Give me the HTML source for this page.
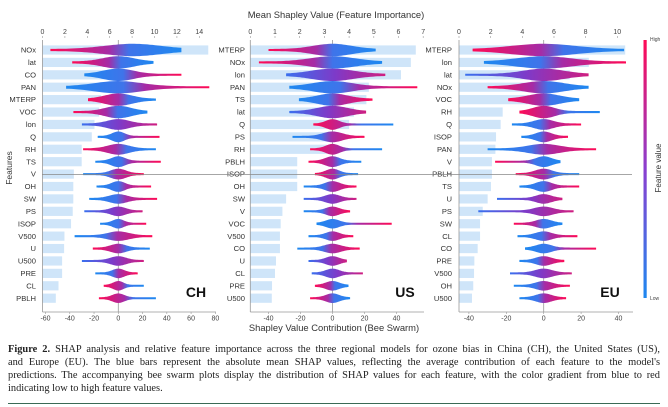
<!DOCTYPE html>
<html><head><meta charset="utf-8">
<style>
html,body{margin:0;padding:0;background:#fff;}
body{width:668px;height:407px;overflow:hidden;position:relative;}
#cap{position:absolute;left:8px;top:343px;width:652px;font-family:"Liberation Serif",serif;font-size:10.4px;line-height:13px;color:#222;}
#cap .j{text-align:justify;text-align-last:justify;white-space:nowrap;}
#rule{position:absolute;left:8px;top:403px;width:652px;height:1px;background:#3a6a55;}
</style></head>
<body>
<svg id="chart" width="668" height="340" style="position:absolute;left:0;top:0" font-family="Liberation Sans, sans-serif">
<defs>
<linearGradient id="gp" x1="0" x2="1" y1="0" y2="0"><stop offset="0" stop-color="#1e88f0"/><stop offset="0.4" stop-color="#3f74ea"/><stop offset="0.55" stop-color="#a52ca6"/><stop offset="1" stop-color="#ff0a55"/></linearGradient>
<linearGradient id="gn" x1="0" x2="1" y1="0" y2="0"><stop offset="0" stop-color="#ff0a55"/><stop offset="0.45" stop-color="#a52ca6"/><stop offset="0.6" stop-color="#3f74ea"/><stop offset="1" stop-color="#1e88f0"/></linearGradient>
<linearGradient id="gm" x1="0" x2="1" y1="0" y2="0"><stop offset="0" stop-color="#3a70ee"/><stop offset="0.5" stop-color="#7e3ac8"/><stop offset="1" stop-color="#d01e80"/></linearGradient>
<linearGradient id="gcb" x1="0" x2="0" y1="0" y2="1"><stop offset="0" stop-color="#ff0a55"/><stop offset="0.5" stop-color="#8a3fd0"/><stop offset="1" stop-color="#1e88f0"/></linearGradient>
</defs>
</svg>
<div id="cap">
<div class="j"><b>Figure 2.</b> SHAP analysis and relative feature importance across the three regional models for ozone bias in China (CH), the United States (US),</div>
<div class="j">and Europe (EU). The blue bars represent the absolute mean SHAP values, reflecting the average contribution of each feature to the model's</div>
<div class="j">predictions. The accompanying bee swarm plots display the distribution of SHAP values for each feature, with the color gradient from blue to red</div>
<div>indicating low to high feature values.</div>
</div>
<div id="rule"></div>
<script>
const chFeatures=["NOx","lat","CO","PAN","MTERP","VOC","lon","Q","RH","TS","V","OH","SW","PS","ISOP","V500","U","U500","PRE","CL","PBLH"];
const chImportance=[14.8,6.6,6.0,5.5,5.24,5.06,4.64,4.4,3.5,3.5,2.8,2.75,2.75,2.7,2.55,1.96,1.93,1.75,1.75,1.43,1.19];
const chLow=[-56,-38,-28,-43,-25,-37,-30,-17,-29,-19,-29,-18,-24,-28,-15,-36,-21,-30,-19,-12,-16];
const chHigh=[52,29,52,75,31,24,32,34,31,35,21,27,32,20,23,28,26,21,16,21,31];
const chDir=[-1,-1,1,1,-1,-1,0,1,-1,1,1,1,1,0,1,1,-1,0,1,-1,-1];

const usFeatures=["MTERP","NOx","lon","PAN","TS","lat","Q","PS","RH","PBLH","ISOP","OH","SW","V","VOC","V500","CO","U","CL","PRE","U500"];
const usImportance=[6.7,6.5,6.1,4.8,4.7,4.2,4.0,3.5,3.1,1.9,1.9,1.9,1.45,1.3,1.23,1.2,1.2,1.04,1.0,0.88,0.87];
const usLow=[-40,-46,-29,-27,-21,-27,-12,-25,-14,-15,-11,-18,-18,-18,-10,-15,-22,-15,-13,-11,-14];
const usHigh=[27,31,33,53,25,21,38,20,31,18,16,15,15,11,37,13,17,9,19,10,11];
const usDir=[-1,-1,0,1,1,0,-1,1,-1,-1,-1,1,0,1,1,1,1,0,0,-1,-1];

const euFeatures=["MTERP","lon","lat","NOx","VOC","RH","Q","ISOP","PAN","V","PBLH","TS","U","PS","SW","CL","CO","PRE","V500","OH","U500"];
const euImportance=[10.5,8.2,7.0,6.3,5.2,2.76,2.63,2.34,2.3,2.08,2.08,2.02,1.81,1.5,1.33,1.33,1.18,0.97,0.95,0.9,0.82];
const euLow=[-38,-32,-42,-30,-19,-13,-17,-12,-30,-26,-15,-13,-25,-35,-16,-14,-10,-13,-18,-16,-13];
const euHigh=[43,44,24,24,19,30,20,13,28,9,19,19,10,16,10,18,28,11,15,14,12];
const euDir=[-1,1,0,-1,-1,-1,1,1,1,-1,-1,1,0,0,-1,1,1,1,0,1,1];

const chTop=[0,2,4,6,8,10,12,14], usTop=[0,1,2,3,4,5,6,7], euTop=[0,2,4,6,8,10];
const chBot=[-60,-40,-20,0,20,40,60,80], usBot=[-40,-20,0,20,40], euBot=[-40,-20,0,20,40];

const svg=document.getElementById('chart');
const NS='http://www.w3.org/2000/svg';
function mk(tag,attrs,parent){const e=document.createElementNS(NS,tag);for(const k in attrs)e.setAttribute(k,attrs[k]);(parent||svg).appendChild(e);return e;}

function panel(p){
  const g=mk('g',{});
  
  
  const xTop=v=>p.x0+v*p.topScale;
  const xBot=v=>p.zero+v*p.botScale;
  const yRow=i=>50+i*12.41;
  p.feat.forEach((f,i)=>{
    const r=mk('rect',{x:p.x0,y:yRow(i)-4.6,width:Math.max(0,xTop(p.imp[i])-p.x0),height:9.2,fill:'#cfe5f9'},g);
    
    
  });
  mk('line',{x1:xBot(0),x2:xBot(0),y1:40,y2:312,stroke:'#999','stroke-width':0.8},g);
  mk('line',{x1:p.x0,x2:p.x0,y1:40,y2:312,stroke:'#999','stroke-width':0.8},g);
  mk('line',{x1:p.x0,x2:p.x1,y1:312,y2:312,stroke:'#999','stroke-width':0.8},g);
  p.feat.forEach((f,i)=>{
    const lo=p.lo[i],hi=p.hi[i],cy=yRow(i);
    const w=i<6?5.2:(i<12?4.4:3.8);
    const s=Math.max(5.5,Math.min(-lo,hi)*(i<6?0.6:0.4));
    const pk=(p.name==='ch'&&i===0)?12:0;
    const top=[],bot=[];
    const N=50;
    for(let k=0;k<=N;k++){
      const v=lo+(hi-lo)*k/N;
      const d=Math.abs(v-pk)/s;
      const h=1.0+w*Math.exp(-d*d*0.9);
      top.push(xBot(v).toFixed(1)+','+(cy-h).toFixed(1));
      bot.unshift(xBot(v).toFixed(1)+','+(cy+h).toFixed(1));
    }
    const fill=p.dir[i]>0?'url(#gp)':(p.dir[i]<0?'url(#gn)':'url(#gm)');
    const pl=mk('polygon',{points:top.concat(bot).join(' '),fill:fill},g);
    
    
    const t=mk('text',{x:p.labelX,y:cy+2.6,'font-size':7.6,fill:'#333','text-anchor':'end'},g);
    t.textContent=f;
    
    
  });
  p.topTicks.forEach(v=>{
    const t=mk('text',{x:xTop(v),y:34,'font-size':7,fill:'#444','text-anchor':'middle'},g);
    t.textContent=v;
    
    
    mk('line',{x1:xTop(v),x2:xTop(v),y1:36,y2:38,stroke:'#999','stroke-width':0.6},g);
  });
  p.botTicks.forEach(v=>{
    const t=mk('text',{x:xBot(v),y:320.5,'font-size':7,fill:'#444','text-anchor':'middle'},g);
    t.textContent=v;
    
    
    mk('line',{x1:xBot(v),x2:xBot(v),y1:312,y2:314,stroke:'#999','stroke-width':0.6},g);
  });
  const lb=mk('text',{x:p.tagX,y:297,'font-size':14,'font-weight':'bold',fill:'#111','text-anchor':'middle'},g);
  lb.textContent=p.name.toUpperCase();
  
  
}

panel({name:'ch',feat:chFeatures,imp:chImportance,lo:chLow,hi:chHigh,dir:chDir,x0:42.5,x1:216,topScale:11.2,zero:118.3,botScale:1.213,labelX:36,topTicks:chTop,botTicks:chBot,tagX:196});
panel({name:'us',feat:usFeatures,imp:usImportance,lo:usLow,hi:usHigh,dir:usDir,x0:250.3,x1:424,topScale:24.7,zero:332.5,botScale:1.6,labelX:245,topTicks:usTop,botTicks:usBot,tagX:405});
panel({name:'eu',feat:euFeatures,imp:euImportance,lo:euLow,hi:euHigh,dir:euDir,x0:459,x1:633,topScale:15.83,zero:543.7,botScale:1.87,labelX:452,topTicks:euTop,botTicks:euBot,tagX:610});

mk('line',{x1:42,x2:632,y1:174.5,y2:174.5,stroke:'#888','stroke-width':0.8});

const cb=mk('rect',{x:643.5,y:40,width:3.2,height:258,fill:'url(#gcb)'});


const hi=mk('text',{x:650,y:41,'font-size':5,fill:'#444'});hi.textContent='High';


const lo=mk('text',{x:650,y:300,'font-size':5,fill:'#444'});lo.textContent='Low';


const fv=mk('text',{x:0,y:0,'font-size':8,fill:'#333','text-anchor':'middle',transform:'translate(661,168) rotate(-90)'});fv.textContent='Feature value';



const tt=mk('text',{x:336,y:18,'font-size':9.4,fill:'#333','text-anchor':'middle'});tt.textContent='Mean Shapley Value (Feature Importance)';


const bt=mk('text',{x:334,y:331,'font-size':9.4,fill:'#333','text-anchor':'middle'});bt.textContent='Shapley Value Contribution (Bee Swarm)';


const yt=mk('text',{x:0,y:0,'font-size':8.5,fill:'#333','text-anchor':'middle',transform:'translate(12,168) rotate(-90)'});yt.textContent='Features';


</script>
</body></html>
